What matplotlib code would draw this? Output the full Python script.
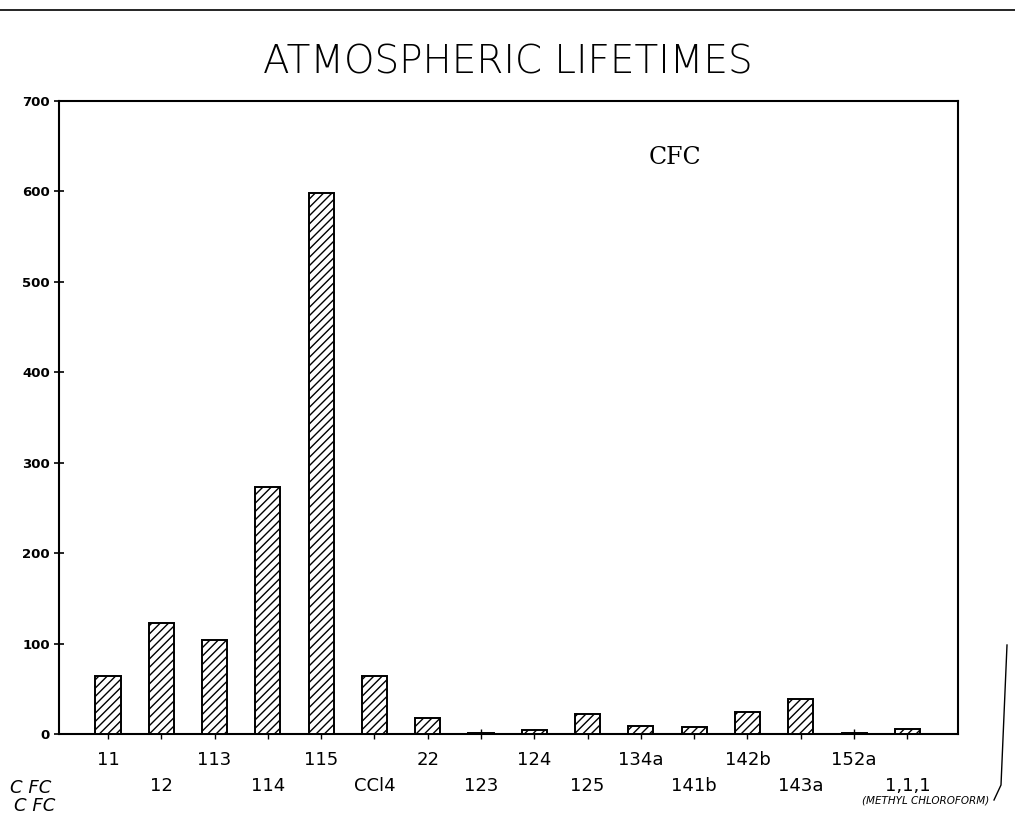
import matplotlib
matplotlib.use("Agg")
import matplotlib.pyplot as plt
from matplotlib.lines import Line2D

# ---- data ----
compounds = ["11", "12", "113", "114", "115", "CCl4", "22", "123", "124",
             "125", "134a", "141b", "142b", "143a", "152a", "1,1,1"]
lifetimes = [64, 123, 104, 273, 598, 64, 18, 1.5, 4, 22, 9, 8, 24, 39, 1.5, 5]
yticks = [0, 100, 200, 300, 400, 500, 600, 700]
title = "ATMOSPHERIC LIFETIMES"
inset_label = "CFC"
footnote = "(METHYL CHLOROFORM)"
handwritten = ["C FC", "C FC"]

fig = plt.figure(figsize=(10.15, 8.16), dpi=100)
fig.patch.set_facecolor("white")
ax = fig.add_axes([0.0581, 0.1005, 0.8857, 0.7757])

xs = list(range(len(compounds)))
ax.bar(xs, lifetimes, width=0.47, facecolor="white", edgecolor="black",
       linewidth=1.4, hatch="////", zorder=3)

ax.set_xlim(-0.92, 15.95)
ax.set_ylim(0, 700)
ax.set_yticks(yticks)
ax.set_yticklabels([str(v) for v in yticks], fontsize=9.5, fontweight="bold",
                   family="DejaVu Sans")
labels = [c if i % 2 == 0 else "\n" + c for i, c in enumerate(compounds)]
ax.set_xticks(xs)
ax.set_xticklabels(labels, fontsize=13, family="DejaVu Sans")
for lab in ax.get_xticklabels():
    lab.set_linespacing(1.55)
ax.tick_params(axis="x", direction="inout", length=7, width=1.0, pad=9)
ax.tick_params(axis="y", direction="inout", length=7, width=1.2, pad=3)
for s in ax.spines.values():
    s.set_linewidth(1.5)
    s.set_color("black")

ax.text(0.685, 0.91, inset_label, transform=ax.transAxes, fontsize=17,
        family="DejaVu Serif", ha="center", va="center")

fig.text(0.5, 0.924, title, fontsize=28, family="DejaVu Sans",
         fontweight="light", ha="center", va="center")

fig.text(0.912, 0.019, footnote, fontsize=7.5, style="italic",
         family="DejaVu Sans", ha="center", va="center")

fig.text(0.010, 1 - 788 / 816, handwritten[0], fontsize=13, style="italic",
         family="DejaVu Sans", fontweight="light", ha="left", va="center")
fig.text(0.014, 1 - 806 / 816, handwritten[1], fontsize=13, style="italic",
         family="DejaVu Sans", fontweight="light", ha="left", va="center")

# page rule at top and scan edge at right
fig.add_artist(Line2D([0, 1], [1 - 10 / 816, 1 - 10 / 816],
                      transform=fig.transFigure, color="black", linewidth=1.2))
fig.add_artist(Line2D([1007 / 1015, 1001 / 1015, 994 / 1015],
                      [1 - 645 / 816, 1 - 785 / 816, 1 - 800 / 816],
                      transform=fig.transFigure, color="black", linewidth=1.0))

fig.savefig("out.png", dpi=100, facecolor="white")
